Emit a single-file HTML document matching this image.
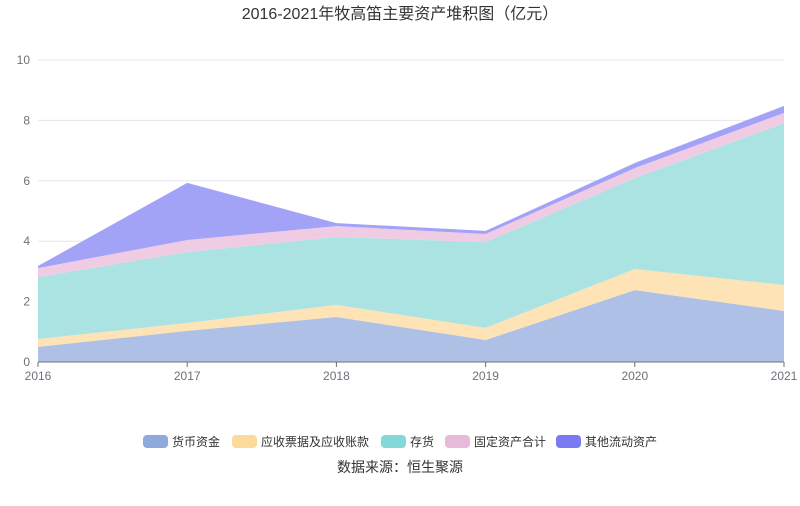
<!DOCTYPE html>
<html><head><meta charset="utf-8"><style>
body{margin:0;background:#fff;width:800px;height:501px;overflow:hidden;font-family:"Liberation Sans","Noto Sans CJK SC",sans-serif}
</style></head><body>
<svg id="c" width="800" height="501" style="font-family:'Liberation Sans','Noto Sans CJK SC',sans-serif">
<text x="400" y="19" text-anchor="middle" font-size="16" fill="#333">2016-2021年牧高笛主要资产堆积图（亿元）</text>
<g id="grid"></g><g id="areas"></g><g id="axes"></g><g id="legend"></g>
<text x="400" y="472" text-anchor="middle" font-size="14" fill="#333">数据来源：恒生聚源</text>
</svg>
<script>
const categories=['2016','2017','2018','2019','2020','2021'];
const cash=[0.50,1.03,1.49,0.73,2.38,1.69];
const receivables=[0.26,0.26,0.40,0.40,0.70,0.86];
const inventory=[2.05,2.35,2.25,2.84,3.01,5.36];
const fixedAssets=[0.30,0.40,0.36,0.27,0.33,0.34];
const otherCurrent=[0.07,1.89,0.10,0.10,0.17,0.23];
const yTicks=[0,2,4,6,8,10];
const seriesNames=['货币资金','应收票据及应收账款','存货','固定资产合计','其他流动资产'];
const series=[cash,receivables,inventory,fixedAssets,otherCurrent];
const fills=['#aec0e6','#fde3b5','#abe3e3','#f0cce4','#a2a2f7'];
const swatch=['#8ea9db','#fdd99a','#84d8d8','#e8b9d9','#7a7af5'];
const ns='http://www.w3.org/2000/svg';
const X0=38,X1=784,Y0=362,Y1=60;
const x=i=>X0+(X1-X0)*i/(categories.length-1);
const y=v=>Y0-(Y0-Y1)*v/10;
function mk(t,a,p){const e=document.createElementNS(ns,t);for(const k in a)e.setAttribute(k,a[k]);p.appendChild(e);return e;}
const grid=document.getElementById('grid'),axes=document.getElementById('axes'),areas=document.getElementById('areas'),leg=document.getElementById('legend');
yTicks.forEach(t=>{
 if(t>0){const l=mk('line',{x1:X0,x2:X1,y1:y(t),y2:y(t),stroke:'#e3e6ee'},grid);
 }
 const tx=mk('text',{x:30,y:y(t)+4,'text-anchor':'end','font-size':12,fill:'#6e7079'},axes);tx.textContent=t;
 
});
let base=categories.map(()=>0);
series.forEach((s,si)=>{
 const top=s.map((v,i)=>base[i]+v);
 let d='M'+top.map((v,i)=>x(i)+','+y(v)).join('L');
 for(let i=categories.length-1;i>=0;i--)d+='L'+x(i)+','+y(base[i]);
 const p=mk('path',{d:d+'Z',fill:fills[si]},areas);
 
 base=top;
});
const ax=mk('line',{x1:X0,x2:X1,y1:Y0,y2:Y0,stroke:'#6e7079'},axes);

categories.forEach((c,i)=>{
 mk('line',{x1:x(i),x2:x(i),y1:Y0,y2:Y0+5,stroke:'#6e7079'},axes);
 const t=mk('text',{x:x(i),y:Y0+18,'text-anchor':'middle','font-size':12,fill:'#6e7079'},axes);t.textContent=c;
 
});
const lx=[143,232,381,445,556];
seriesNames.forEach((n,i)=>{
 const g=mk('g',{},leg);
 
 mk('rect',{x:lx[i],y:435,width:25,height:13,rx:4,fill:swatch[i]},g);
 const t=mk('text',{x:lx[i]+29,y:446,'font-size':12,fill:'#333'},g);t.textContent=n;
});
</script>
</body></html>
